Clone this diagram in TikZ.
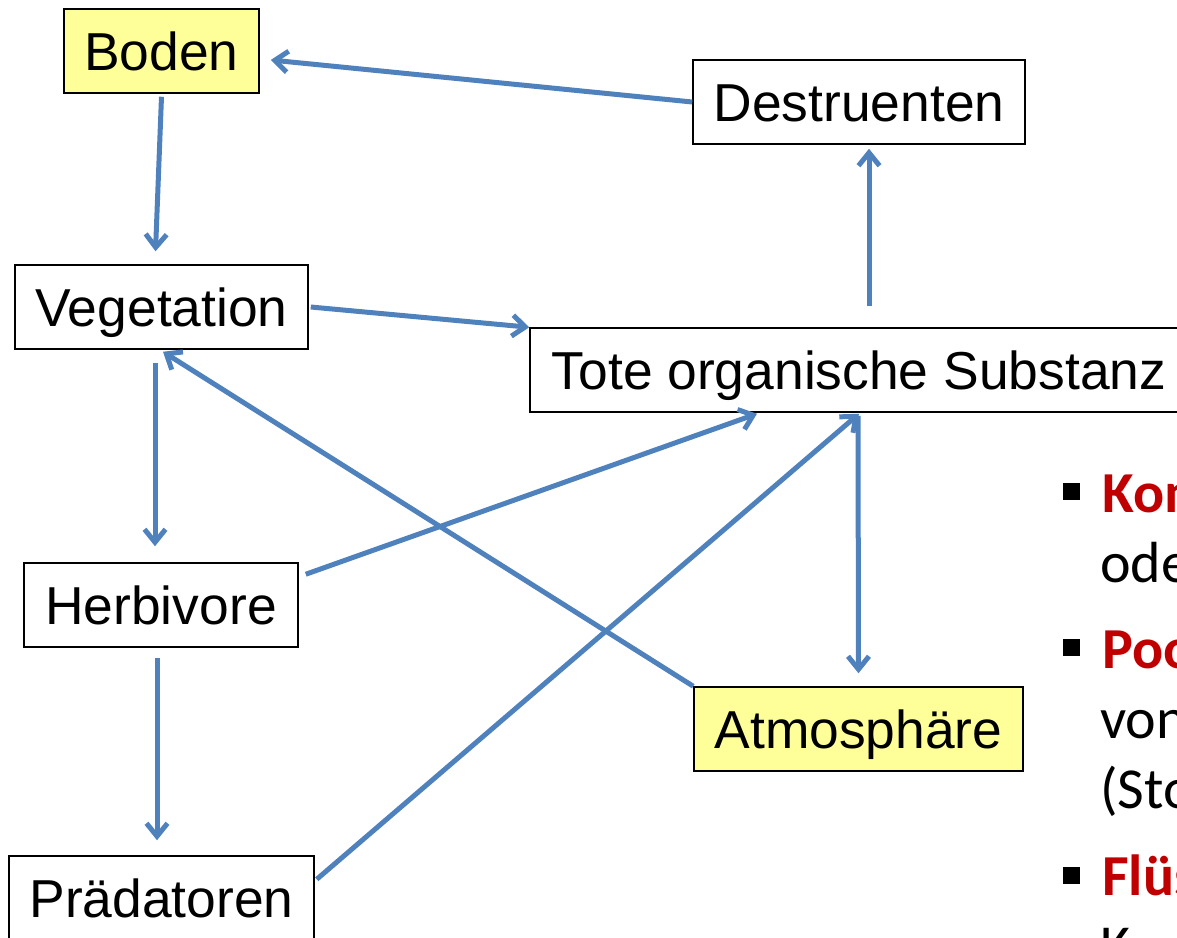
\documentclass[tikz,border=0pt]{standalone}
\usepackage{fontspec}
\setmainfont{Liberation Sans}
\newfontfamily\calib{Carlito}
\usetikzlibrary{arrows.meta,calc}
\definecolor{arr}{HTML}{4F81BD}
\definecolor{boxy}{HTML}{FFFF99}
\definecolor{darkred}{HTML}{C00000}
\begin{document}
\begin{tikzpicture}[x=1pt,y=-1pt,
  box/.style={draw=black,line width=1.5pt,inner sep=0pt,minimum height=84pt,
    text height=38.2pt,text depth=0pt,font=\fontsize{53.4}{60}\selectfont},
  ybox/.style={box,fill=boxy},
  flow/.style={draw=arr,line width=5pt,-{Straight Barb[length=13pt,width=21pt]}},
  btxt/.style={anchor=base west,inner sep=0pt,font=\calib\fontsize{58}{70}\selectfont},
  bul/.style={fill=black,draw=none,minimum size=17pt,inner sep=0pt}
  ]
\useasboundingbox (0,0) rectangle (1177,937);
\begin{scope}
\clip (0,0) rectangle (1177,937);
\node[ybox,minimum width=195pt] (boden) at (161.5,51) {Boden};
\node[box,minimum width=332pt] (dest) at (859,102) {Destruenten};
\node[box,minimum width=293pt] (veg) at (161.5,307) {Vegetation};
\node[box,minimum width=658pt] (tote) at (859,370) {Tote organische Substanz};
\node[box,minimum width=274pt] (herb) at (161,605) {Herbivore};
\node[ybox,minimum width=329pt] (atm) at (858.5,729) {Atmosphäre};
\node[box,minimum width=305pt] (praed) at (161.5,898) {Prädatoren};

\draw[flow] (dest.west) -- ($(boden.east)+(11,9)$);
\draw[flow] ($(boden.south)+(0,3)$) -- ($(veg.north)+(-6,-13)$);
\draw[flow] ($(veg.east)+(2,0)$) -- (tote.north west);
\draw[flow] ($(tote.north)+(10,-21)$) -- ($(dest.south)+(10,4)$);
\draw[flow] ($(veg.south)+(-6.5,13)$) -- ($(herb.north)+(-6,-16)$);
\draw[flow] (atm.north west) -- ($(veg.south)+(1.5,2)$);
\draw[flow] ($(herb.north east)+(7,12)$) -- ($(tote.south)+(-102,1)$);
\draw[flow] ($(praed.north east)+(2,24)$) -- ($(tote.south)+(0,1)$);
\draw[flow] ($(tote.south)+(-1,3)$) -- ($(atm.north)+(0,-13)$);
\draw[flow] ($(herb.south)+(-4,10)$) -- ($(praed.north)+(-4.5,-15)$);

\node[bul] (b1) at (1071.5,491.5) {};
\node[bul] (b2) at (1071.5,647) {};
\node[bul] (b3) at (1071.5,875.5) {};
\node[btxt,text=darkred] (t1) at (1102,512) {\bfseries Kompartimente};
\node[btxt] (t2) at (1100,582) {oder};
\node[btxt,text=darkred] (t3) at (1102,668) {\bfseries Pools};
\node[btxt] (t4) at (1100,738) {von};
\node[btxt] (t5) at (1100,808) {(Stoffe};
\node[btxt,text=darkred] (t6) at (1102,895) {\bfseries Flüsse};
\node[btxt] (t7) at (1100,965) {K};
\end{scope}
\end{tikzpicture}
\end{document}
